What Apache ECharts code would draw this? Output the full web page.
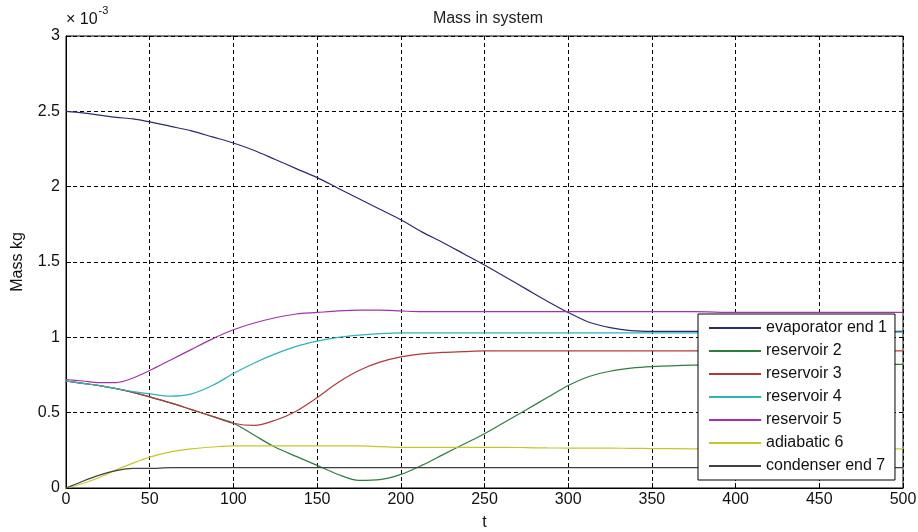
<!DOCTYPE html>
<html>
<head>
<meta charset="utf-8">
<script src="https://cdn.jsdelivr.net/npm/echarts@6/dist/echarts.min.js"></script>
<style>html,body{margin:0;padding:0;background:#fff}#c{width:918px;height:532px}</style>
</head>
<body>
<div id="c"></div>
<script>
// time values
var t = [0,10,20,30,40,50,62.5,75,87.5,100,112.5,125,137.5,150,162.5,175,187.5,200,212.5,225,237.5,250,262.5,275,287.5,300,312.5,325,337.5,350,375,400,450,500];
// values in units of 1e-3 kg
var evaporator = [2.50,2.49,2.475,2.46,2.45,2.43,2.40,2.37,2.33,2.29,2.24,2.18,2.12,2.06,1.99,1.92,1.85,1.78,1.70,1.63,1.555,1.48,1.40,1.32,1.24,1.165,1.10,1.065,1.045,1.04,1.04,1.04,1.04,1.04];
var reservoir2 = [0.71,0.695,0.68,0.66,0.635,0.605,0.565,0.52,0.475,0.43,0.35,0.27,0.21,0.15,0.09,0.05,0.055,0.09,0.15,0.22,0.29,0.36,0.44,0.52,0.60,0.68,0.74,0.775,0.795,0.805,0.815,0.82,0.82,0.82];
var reservoir3 = [0.71,0.695,0.68,0.66,0.635,0.605,0.565,0.52,0.475,0.43,0.415,0.45,0.51,0.60,0.70,0.78,0.835,0.87,0.89,0.90,0.905,0.91,0.91,0.91,0.91,0.91,0.91,0.91,0.91,0.91,0.91,0.91,0.91,0.91];
var reservoir4 = [0.71,0.695,0.68,0.66,0.64,0.625,0.61,0.625,0.68,0.76,0.83,0.89,0.94,0.975,1.0,1.015,1.025,1.03,1.03,1.03,1.03,1.03,1.03,1.03,1.03,1.03,1.03,1.03,1.03,1.03,1.03,1.035,1.035,1.035];
var reservoir5 = [0.72,0.71,0.70,0.70,0.73,0.78,0.85,0.92,0.99,1.05,1.095,1.13,1.155,1.165,1.175,1.18,1.18,1.175,1.17,1.17,1.17,1.17,1.17,1.17,1.17,1.17,1.17,1.17,1.17,1.17,1.17,1.165,1.165,1.165];
var adiabatic6 = [0,0.03,0.07,0.12,0.165,0.205,0.24,0.26,0.272,0.28,0.28,0.28,0.28,0.28,0.28,0.28,0.275,0.27,0.27,0.27,0.27,0.27,0.27,0.268,0.266,0.265,0.265,0.265,0.263,0.262,0.26,0.26,0.26,0.26];
var condenser7 = [0,0.045,0.085,0.115,0.13,0.13,0.135,0.135,0.135,0.135,0.135,0.135,0.135,0.135,0.135,0.135,0.135,0.135,0.135,0.135,0.135,0.135,0.135,0.135,0.135,0.135,0.135,0.135,0.135,0.135,0.135,0.135,0.135,0.135];
var names = ['evaporator end 1','reservoir 2','reservoir 3','reservoir 4','reservoir 5','adiabatic 6','condenser end 7'];
var colors = ['#2b2b72','#2e7d40','#b03a3a','#2fb2ba','#a232aa','#c6c62a','#404040'];
var xTicks = [0,50,100,150,200,250,300,350,400,450,500];
var yTicks = [0,0.5,1,1.5,2,2.5,3];

var all = [evaporator,reservoir2,reservoir3,reservoir4,reservoir5,adiabatic6,condenser7];
function pairs(v){ return t.map(function(x,i){ return [x, v[i]]; }); }

var font = 'Liberation Sans, Arial, sans-serif';
var chart = echarts.init(document.getElementById('c'));
chart.setOption({
  animation: false,
  backgroundColor: '#fff',
  color: colors,
  title: {
    text: 'Mass in system', left: 483, top: 6, textAlign: 'center',
    textStyle: {fontSize: 16, fontWeight: 'normal', color: '#222', fontFamily: font}
  },
  grid: {left: 66, right: 15, top: 36, bottom: 44, show: true, borderColor: '#000', borderWidth: 1,
         outerBoundsMode: 'none', containLabel: false},
  legend: {
    orient: 'vertical', left: 698, top: 314,
    data: names,
    itemWidth: 52, itemHeight: 14, itemGap: 7,
    padding: [6, 8, 6, 10],
    itemStyle: {opacity: 0},
    backgroundColor: '#fff', borderColor: '#000', borderWidth: 1,
    textStyle: {fontSize: 16, color: '#111', fontFamily: font},
    z: 10
  },
  graphic: [{
    type: 'text', left: 66, top: 5,
    style: {
      text: '{a|× 10}{b|-3}',
      rich: {
        a: {fontSize: 16, fontFamily: font, fill: '#111', padding: [7,0,0,0]},
        b: {fontSize: 11, fontFamily: font, fill: '#111', verticalAlign: 'top', padding: [0,0,8,1]}
      }
    }
  }],
  xAxis: {
    type: 'value', min: 0, max: 500, interval: 50,
    name: 't', nameLocation: 'middle', nameGap: 27,
    nameTextStyle: {fontSize: 16, color: '#111', fontFamily: font},
    axisLine: {show: true, lineStyle: {color: '#000', width: 1}},
    axisTick: {show: true, inside: true, length: 5, lineStyle: {color: '#000'}},
    axisLabel: {fontSize: 16, color: '#111', fontFamily: font, margin: 4,
      formatter: function(v){ return xTicks.indexOf(v) >= 0 ? String(v) : ''; }},
    splitLine: {show: true, lineStyle: {color: '#000', type: [4,3], width: 1}}
  },
  yAxis: {
    type: 'value', min: 0, max: 3, interval: 0.5,
    name: 'Mass kg', nameLocation: 'middle', nameGap: 40,
    nameTextStyle: {fontSize: 16, color: '#111', fontFamily: font},
    axisLine: {show: true, lineStyle: {color: '#000', width: 1}},
    axisTick: {show: true, inside: true, length: 5, lineStyle: {color: '#000'}},
    axisLabel: {fontSize: 16, color: '#111', fontFamily: font, margin: 6,
      formatter: function(v){ return yTicks.indexOf(v) >= 0 ? String(v) : ''; }},
    splitLine: {show: true, lineStyle: {color: '#000', type: [4,3], width: 1}}
  },
  series: all.map(function(v, i){
    return {
      name: names[i], type: 'line', data: pairs(v),
      symbol: 'none', smooth: 0.3,
      lineStyle: {width: 1.2, color: colors[i]},
      itemStyle: {color: colors[i]}
    };
  })
});
</script>
</body>
</html>
